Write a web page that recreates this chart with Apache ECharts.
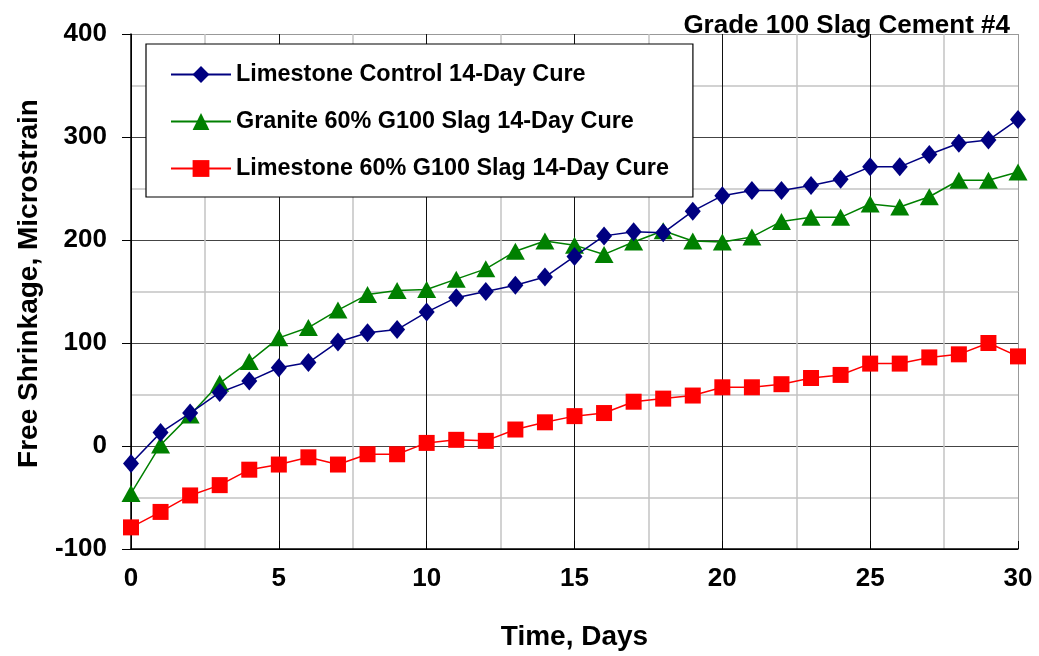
<!DOCTYPE html>
<html>
<head>
<meta charset="utf-8">
<script src="https://cdn.jsdelivr.net/npm/echarts@6/dist/echarts.min.js"></script>
<style>
html,body{margin:0;padding:0;background:#fff;}
#chart{width:1039px;height:656px;}
</style>
</head>
<body>
<div id="chart"></div>
<script>
const days = [0,1,2,3,4,5,6,7,8,9,10,11,12,13,14,15,16,17,18,19,20,21,22,23,24,25,26,27,28,29,30];
const limestoneControl = [-17,13,32,52,63,76,81,101,110,113,130,144,150,156,164,184,204,208,207,228,243,248,248,253,259,271,271,283,294,297,317];
const graniteSlag = [-46,1,30,61,82,105,115,132,147,151,152,162,172,189,199,195,186,198,209,199,198,203,218,222,222,235,232,242,258,258,266];
const limestoneSlag = [-79,-64,-48,-38,-23,-18,-11,-18,-8,-8,3,6,5,16,23,29,32,43,46,49,57,57,60,66,69,80,80,86,89,100,87];
const seriesNames = ['Limestone Control 14-Day Cure','Granite 60% G100 Slag 14-Day Cure','Limestone 60% G100 Slag 14-Day Cure'];
const titleText = 'Grade 100 Slag Cement #4';
const xName = 'Time, Days';
const yName = 'Free Shrinkage, Microstrain';

const FONT = "'Liberation Sans', Arial, sans-serif";
function pairs(ys){ return days.map((d,i)=>[d, ys[i]]); }

const chart = echarts.init(document.getElementById('chart'), null, {renderer:'canvas'});
chart.setOption({
  animation:false,
  backgroundColor:'#fff',
  title:{
    text:titleText, right:24, top:8,
    textStyle:{fontFamily:FONT, fontWeight:'bold', fontSize:26, color:'#000'}
  },
  grid:{left:131, right:21, top:34, bottom:107, containLabel:false},
  legend:{
    left:146, top:44, orient:'vertical',
    padding:[19,24,17,24], itemGap:24, itemWidth:60, itemHeight:21,
    backgroundColor:'#fff', borderColor:'#000', borderWidth:1.2, borderRadius:0,
    textStyle:{fontFamily:FONT, fontWeight:'bold', fontSize:23.4, color:'#000', lineHeight:23},
    data:seriesNames
  },
  xAxis:{
    type:'value', min:0, max:30, interval:5,
    name:xName, nameLocation:'middle', nameGap:74,
    nameTextStyle:{fontFamily:FONT, fontWeight:'bold', fontSize:28, color:'#000'},
    axisLine:{onZero:false, lineStyle:{color:'#000', width:1.5}},
    axisTick:{show:true, inside:true, length:8, lineStyle:{color:'#000'}},
    axisLabel:{margin:17, fontFamily:FONT, fontWeight:'bold', fontSize:26, color:'#000'},
    splitLine:{show:true, lineStyle:{color:['#000','#111','#111','#111','#111','#111','#999'], width:1}},
    minorTick:{show:false, splitNumber:2},
    minorSplitLine:{show:true, lineStyle:{color:'#c4c4c4', width:1.5}}
  },
  yAxis:{
    type:'value', min:-100, max:400, interval:100,
    name:yName, nameLocation:'middle', nameGap:88, nameRotate:90,
    nameTextStyle:{fontFamily:FONT, fontWeight:'bold', fontSize:28, color:'#000', padding:[0,0,0,16]},
    axisLine:{show:true, lineStyle:{color:'#000', width:1.5}},
    axisTick:{show:true, inside:false, length:9, lineStyle:{color:'#000'}},
    axisLabel:{margin:24, fontFamily:FONT, fontWeight:'bold', fontSize:26, color:'#000'},
    splitLine:{show:true, lineStyle:{color:['#000','#444','#444','#444','#444','#999'], width:1}},
    minorTick:{show:false, splitNumber:2},
    minorSplitLine:{show:true, lineStyle:{color:'#c4c4c4', width:1.5}}
  },
  series:[
    {name:seriesNames[0], type:'line', data:pairs(limestoneControl), symbol:'diamond', symbolSize:[16,19],
     lineStyle:{color:'#000080', width:1.5}, itemStyle:{color:'#000080'}, z:3},
    {name:seriesNames[1], type:'line', data:pairs(graniteSlag), symbol:'triangle', symbolSize:[19,17],
     lineStyle:{color:'#008000', width:1.5}, itemStyle:{color:'#008000'}, z:2},
    {name:seriesNames[2], type:'line', data:pairs(limestoneSlag), symbol:'rect', symbolSize:16,
     lineStyle:{color:'#ff0000', width:1.5}, itemStyle:{color:'#ff0000'}, z:1}
  ]
});
</script>
</body>
</html>
